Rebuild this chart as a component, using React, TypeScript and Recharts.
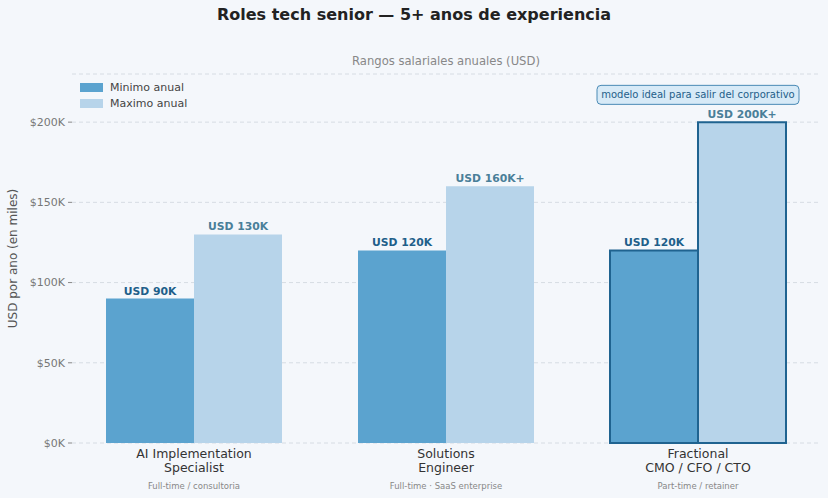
import {
  Bar,
  BarChart,
  CartesianGrid,
  Cell,
  LabelList,
  Legend,
  ReferenceDot,
  XAxis,
  YAxis,
} from "recharts";

const roles = [
  "AI Implementation\nSpecialist",
  "Solutions\nEngineer",
  "Fractional\nCMO / CFO / CTO",
];
const modalities = [
  "Full-time / consultoria",
  "Full-time · SaaS enterprise",
  "Part-time / retainer",
];
const minimo = [90, 120, 120];
const maximo = [130, 160, 200];
const minLabels = ["USD 90K", "USD 120K", "USD 120K"];
const maxLabels = ["USD 130K", "USD 160K+", "USD 200K+"];
const yTicks = [0, 50, 100, 150, 200];
const highlightIndex = 2;
const annotationText = "modelo ideal para salir del corporativo";
const annotationY = 217;

const FONT = "DejaVu Sans, sans-serif";
const MIN_COLOR = "#5ba3cf";
const MAX_COLOR = "#b7d4ea";
const EDGE = "#1f6390";

const data = roles.map((role, i) => ({
  role,
  modality: modalities[i],
  min: minimo[i],
  max: maximo[i],
  minLabel: minLabels[i],
  maxLabel: maxLabels[i],
}));

function RoleTick(props: any) {
  const { x, y, payload, index } = props;
  const lines = String(payload.value).split("\n");
  return (
    <g>
      {lines.map((line: string, i: number) => (
        <text
          key={i}
          x={x}
          y={y + 14.5 + i * 14}
          textAnchor="middle"
          fontSize={12.5}
          fill="#333"
          fontFamily={FONT}
        >
          {line}
        </text>
      ))}
      <text
        x={x}
        y={y + 46}
        textAnchor="middle"
        fontSize={8.5}
        fill="#888"
        fontFamily={FONT}
      >
        {modalities[index]}
      </text>
    </g>
  );
}

function valueLabel(color: string) {
  return (props: any) => {
    const { x, y, width, value } = props;
    return (
      <text
        x={x + width / 2}
        y={y - 4}
        textAnchor="middle"
        fontSize={10.8}
        fontWeight="bold"
        fill={color}
        fontFamily={FONT}
      >
        {value}
      </text>
    );
  };
}

function Annotation(props: any) {
  const { cx, cy } = props;
  const w = 202;
  const h = 19;
  return (
    <g>
      <rect
        x={cx - w / 2}
        y={cy - h / 2}
        width={w}
        height={h}
        rx={4}
        fill="#d7eaf7"
        stroke="#4a8ab5"
        strokeWidth={1}
      />
      <text
        x={cx}
        y={cy + 3.5}
        textAnchor="middle"
        fontSize={10}
        fill="#1f5f8a"
        fontFamily={FONT}
      >
        {annotationText}
      </text>
    </g>
  );
}

function LegendBox() {
  const items = [
    { label: "Minimo anual", color: MIN_COLOR },
    { label: "Maximo anual", color: MAX_COLOR },
  ];
  return (
    <div style={{ fontFamily: FONT, fontSize: 11, color: "#444" }}>
      {items.map((it) => (
        <div
          key={it.label}
          style={{ display: "flex", alignItems: "center", height: 15.5 }}
        >
          <span
            style={{
              display: "inline-block",
              width: 23,
              height: 9,
              background: it.color,
              marginRight: 7,
            }}
          />
          {it.label}
        </div>
      ))}
    </div>
  );
}

export default function App() {
  return (
    <div
      style={{
        position: "absolute",
        left: 0,
        top: 0,
        width: 828,
        height: 498,
        background: "#f4f7fb",
        fontFamily: FONT,
      }}
    >
      <div
        style={{
          position: "absolute",
          top: 5,
          width: 828,
          textAlign: "center",
          fontSize: 16,
          fontWeight: "bold",
          color: "#222",
        }}
      >
        Roles tech senior — 5+ anos de experiencia
      </div>
      <div
        style={{
          position: "absolute",
          top: 54,
          left: 72,
          width: 748,
          textAlign: "center",
          fontSize: 11.6,
          color: "#888",
        }}
      >
        Rangos salariales anuales (USD)
      </div>
      <BarChart
        width={828}
        height={498}
        data={data}
        margin={{ top: 74, right: 8, bottom: 0, left: 0 }}
        barGap={0}
        barSize={88}
      >
        <CartesianGrid
          vertical={false}
          stroke="#d6dce3"
          strokeDasharray="4 3"
        />
        <XAxis
          dataKey="role"
          height={55}
          axisLine={false}
          tickLine={false}
          tickSize={0}
          tickMargin={0}
          interval={0}
          padding={{ left: -4, right: -4 }}
          tick={<RoleTick />}
        />
        <YAxis
          width={72}
          domain={[0, 230]}
          ticks={yTicks}
          axisLine={false}
          tickSize={4}
          tickMargin={3}
          tickLine={{ stroke: "#888" }}
          tickFormatter={(v) => `$${v}K`}
          tick={{ fontSize: 11, fill: "#777", fontFamily: FONT }}
          label={{
            value: "USD por ano (en miles)",
            angle: -90,
            position: "insideLeft",
            offset: 13,
            style: {
              fontSize: 12,
              fill: "#555",
              fontFamily: FONT,
              textAnchor: "middle",
            },
          }}
        />
        <Legend
          layout="horizontal"
          verticalAlign="middle"
          align="center"
          content={<LegendBox />}
          wrapperStyle={{ left: 80, top: 80, width: 200 }}
        />
        <Bar dataKey="min" name="Minimo anual" fill={MIN_COLOR} isAnimationActive={false}>
          {data.map((d, i) => (
            <Cell
              key={d.role}
              fill={MIN_COLOR}
              stroke={i === highlightIndex ? EDGE : "none"}
              strokeWidth={i === highlightIndex ? 2 : 0}
            />
          ))}
          <LabelList dataKey="minLabel" content={valueLabel("#1f5f8a")} />
        </Bar>
        <Bar dataKey="max" name="Maximo anual" fill={MAX_COLOR} isAnimationActive={false}>
          {data.map((d, i) => (
            <Cell
              key={d.role}
              fill={MAX_COLOR}
              stroke={i === highlightIndex ? EDGE : "none"}
              strokeWidth={i === highlightIndex ? 2 : 0}
            />
          ))}
          <LabelList dataKey="maxLabel" content={valueLabel("#4a7f99")} />
        </Bar>
        <ReferenceDot
          x={roles[highlightIndex]}
          y={annotationY}
          r={0}
          shape={<Annotation />}
        />
      </BarChart>
    </div>
  );
}
